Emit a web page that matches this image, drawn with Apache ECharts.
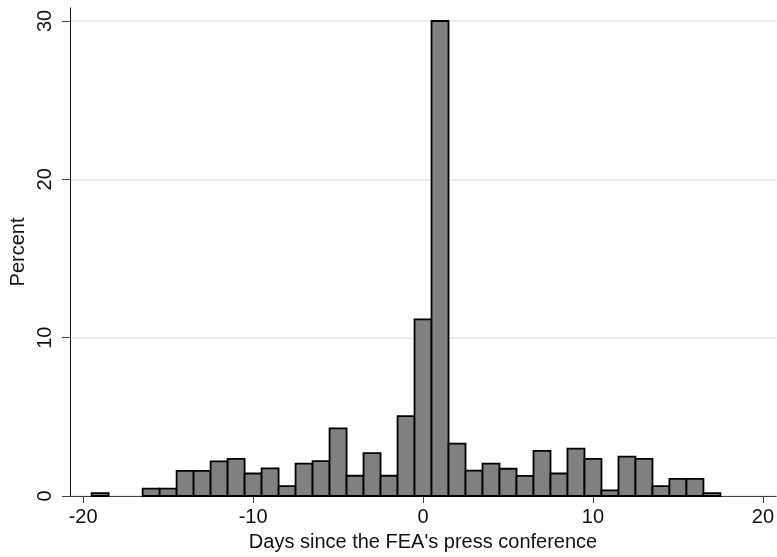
<!DOCTYPE html>
<html>
<head>
<meta charset="utf-8">
<script src="https://cdn.jsdelivr.net/npm/echarts@6/dist/echarts.min.js"></script>
<style>
  html, body { margin: 0; padding: 0; background: #fff; }
  #chart { width: 777px; height: 557px; }
</style>
</head>
<body>
<div id="chart"></div>
<script>
  // histogram bins: day (bin centre) and share of events in %
  const days = [-19, -16, -15, -14, -13, -12, -11, -10, -9, -8, -7, -6, -5, -4, -3, -2, -1, 0,
    1, 2, 3, 4, 5, 6, 7, 8, 9, 10, 11, 12, 13, 14, 15, 16, 17];
  const percent = [0.18, 0.47, 0.47, 1.59, 1.59, 2.19, 2.35, 1.42, 1.74, 0.62, 2.04, 2.2, 4.27, 1.28, 2.71, 1.28, 5.05, 11.15,
    30.0, 3.31, 1.6, 2.05, 1.72, 1.27, 2.85, 1.42, 2.99, 2.35, 0.36, 2.49, 2.35, 0.62, 1.08, 1.08, 0.18];
  const binWidth = 1;

  const xTicks = [-20, -10, 0, 10, 20];
  const yTicks = [0, 10, 20, 30];

  const font = '"Liberation Sans", Arial, sans-serif';

  const chart = echarts.init(document.getElementById('chart'));

  const option = {
    animation: false,
    grid: {
      left: 68,
      right: 0,
      top: 8,
      bottom: 60.5,
    },
    xAxis: {
      type: 'value',
      min: -20.78,
      max: 20.78,
      name: "Days since the FEA's press conference",
      nameLocation: 'middle',
      nameGap: 36,
      nameTextStyle: { color: '#111', fontSize: 20, fontFamily: font },
      axisLine: { show: true, onZero: false, lineStyle: { color: '#444', width: 1 } },
      axisTick: { show: true, length: 7, customValues: xTicks, lineStyle: { color: '#444' } },
      axisLabel: { customValues: xTicks, margin: 11, color: '#111', fontSize: 20, fontFamily: font },
      splitLine: { show: false },
    },
    yAxis: {
      type: 'value',
      min: 0,
      max: 30.82,
      name: 'Percent',
      nameLocation: 'middle',
      nameGap: 35,
      nameTextStyle: { color: '#111', fontSize: 20, fontFamily: font },
      axisLine: { show: true, onZero: false, lineStyle: { color: '#111', width: 1 } },
      axisTick: { show: true, length: 8, customValues: yTicks, lineStyle: { color: '#444' } },
      axisLabel: { customValues: yTicks, rotate: 90, margin: 14, color: '#111', fontSize: 20, fontFamily: font },
      splitLine: { show: true, lineStyle: { color: '#e6e6e6', width: 1.5 } },
    },
    series: [
      {
        type: 'custom',
        data: days.map((d, i) => [d, percent[i]]),
        renderItem: (params, api) => {
          const x0 = api.value(0) - binWidth / 2;
          const topLeft = api.coord([x0, api.value(1)]);
          const bottomRight = api.coord([x0 + binWidth, 0]);
          return {
            type: 'rect',
            shape: {
              x: topLeft[0],
              y: topLeft[1],
              width: bottomRight[0] - topLeft[0],
              height: bottomRight[1] - topLeft[1],
            },
            style: { fill: '#808080', stroke: '#000', lineWidth: 1.8 },
          };
        },
      },
    ],
  };

  chart.setOption(option);
</script>
</body>
</html>
